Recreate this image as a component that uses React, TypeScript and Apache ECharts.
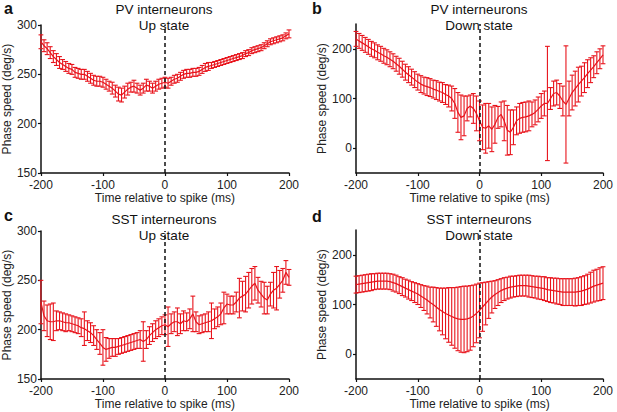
import React, { useEffect, useRef } from 'react';
import * as echarts from 'echarts';

const time = [
  -200, -195, -190, -185, -180, -175, -170, -165, -160, -155, -150, -145, -140, -135, -130, -125, -120, -115, -110, -105,
  -100, -95, -90, -85, -80, -75, -70, -65, -60, -55, -50, -45, -40, -35, -30, -25, -20, -15, -10, -5,
  0, 5, 10, 15, 20, 25, 30, 35, 40, 45, 50, 55, 60, 65, 70, 75, 80, 85, 90, 95,
  100, 105, 110, 115, 120, 125, 130, 135, 140, 145, 150, 155, 160, 165, 170, 175, 180, 185, 190, 195, 200,
];

const xTicks = [-200, -100, 0, 100, 200];

// a: PV interneurons, Up state
const pvUpMean = [
  283, 279, 276, 272, 268, 265, 262, 260, 258, 256, 255, 252, 251, 250, 250, 248, 246, 244, 243, 243,
  242, 240, 238, 236, 233, 230, 229, 232, 235, 237, 238, 236, 234, 236, 239, 238, 236, 238, 240, 241,
  242, 241, 243, 245, 246, 248, 250, 251, 251, 252, 252, 253, 255, 257, 258, 259, 260, 261, 262, 263,
  264, 265, 266, 267, 268, 269, 271, 272, 274, 275, 276, 277, 279, 281, 283, 284, 285, 286, 287, 289, 291,
];
const pvUpErr = [
  7, 6, 6, 6, 6, 6, 6, 5, 5, 5, 5, 5, 5, 5, 5, 5, 5, 5, 5, 5,
  5, 5, 5, 6, 6, 7, 7, 6, 6, 5, 6, 5, 5, 5, 6, 5, 5, 5, 5, 5,
  5, 5, 4, 4, 4, 4, 4, 4, 4, 4, 4, 4, 4, 4, 4, 3, 3, 3, 3, 3,
  3, 3, 3, 3, 3, 3, 3, 3, 3, 3, 3, 3, 3, 3, 3, 3, 3, 3, 3, 3, 4,
];

// b: PV interneurons, Down state
const pvDownMean = [
  220, 216, 212, 208, 204, 200, 197, 193, 190, 186, 183, 179, 175, 170, 165, 159, 153, 148, 143, 138,
  133, 129, 126, 124, 122, 119, 117, 114, 112, 108, 105, 100, 90, 72, 62, 65, 80, 85, 80, 70,
  55, 42, 40, 45, 38, 48, 62, 68, 55, 36, 32, 42, 55, 60, 62, 63, 65, 68, 72, 78,
  85, 90, 90, 100, 110, 112, 105, 95, 88, 100, 112, 120, 128, 135, 142, 150, 157, 164, 172, 180, 188,
];
const pvDownErr = [
  15, 15, 15, 15, 15, 15, 15, 15, 15, 15, 15, 15, 15, 15, 16, 16, 16, 16, 16, 16,
  16, 17, 17, 18, 18, 18, 19, 19, 20, 20, 22, 25, 30, 40, 45, 40, 25, 22, 30, 35,
  40, 45, 50, 45, 45, 38, 22, 25, 40, 50, 45, 35, 28, 30, 30, 30, 30, 25, 25, 25,
  25, 25, 115, 22, 25, 25, 25, 30, 118, 35, 35, 35, 35, 30, 30, 28, 25, 22, 22, 20, 18,
];

// c: SST interneurons, Up state
const sstUpMean = [
  228, 214, 209, 208, 208, 209, 209, 208, 207, 207, 206, 205, 204, 202, 201, 199, 197, 194, 190, 186,
  182, 180, 181, 182, 182, 183, 184, 185, 186, 187, 188, 189, 190, 188, 190, 194, 197, 200, 202, 204,
  205, 203, 206, 208, 208, 206, 209, 208, 211, 216, 208, 205, 206, 207, 208, 209, 211, 213, 216, 222,
  226, 225, 225, 228, 232, 234, 236, 240, 244, 247, 240, 236, 232, 230, 236, 240, 242, 246, 250, 258, 253,
];
const sstUpErr = [
  22, 15, 16, 18, 19, 10, 9, 9, 9, 8, 8, 8, 8, 9, 17, 10, 10, 10, 10, 11,
  18, 12, 10, 9, 9, 8, 8, 8, 8, 8, 8, 8, 9, 20, 9, 9, 9, 9, 9, 9,
  10, 20, 10, 10, 14, 10, 10, 9, 10, 18, 10, 9, 9, 9, 10, 18, 10, 10, 11, 16,
  10, 9, 9, 10, 20, 15, 18, 18, 18, 17, 13, 13, 16, 14, 12, 18, 22, 14, 12, 12, 8,
];

// d: SST interneurons, Down state
const sstDownMean = [
  140, 141, 142, 143, 144, 145, 146, 147, 147, 147, 147, 146, 144, 142, 139, 136, 133, 130, 127, 124,
  121, 117, 113, 109, 104, 100, 95, 90, 86, 82, 79, 76, 73, 71, 70, 70, 71, 73, 77, 82,
  88, 95, 102, 109, 115, 120, 124, 128, 131, 133, 135, 136, 137, 138, 138, 138, 137, 136, 135, 134,
  133, 132, 130, 129, 128, 127, 126, 125, 125, 125, 125, 125, 126, 127, 129, 131, 134, 137, 139, 141, 143,
];
const sstDownErr = [
  17, 17, 17, 17, 17, 17, 16, 16, 16, 16, 16, 16, 17, 17, 17, 18, 18, 19, 19, 20,
  21, 23, 25, 28, 31, 35, 39, 43, 47, 51, 55, 58, 61, 64, 66, 67, 66, 65, 62, 59,
  55, 49, 43, 37, 32, 28, 26, 24, 23, 22, 22, 21, 21, 21, 21, 21, 22, 22, 22, 23,
  23, 24, 24, 25, 25, 26, 26, 27, 27, 27, 27, 28, 28, 29, 29, 30, 31, 32, 32, 33, 33,
];

const titles = [
  'PV interneurons\nUp state',
  'PV interneurons\nDown state',
  'SST interneurons\nUp state',
  'SST interneurons\nDown state',
];
const letters = ['a', 'b', 'c', 'd'];
const yTicksUp = [150, 200, 250, 300];
const yTicksDown = [0, 100, 200];

const RED = '#e8141c';
const FONT = 'Liberation Sans, Arial, sans-serif';

export default function App() {
  const ref = useRef<HTMLDivElement>(null);

  useEffect(() => {
    if (!ref.current) return;
    const chart = echarts.init(ref.current, null, { renderer: 'svg' });

    const panels = [
      { mean: pvUpMean, err: pvUpErr, grid: { left: 40, top: 25, width: 249, height: 148 }, yMin: 150, yMax: 300, ticks: yTicksUp, tx: 164, ty: 1, lx: 4, ly: 0 },
      { mean: pvDownMean, err: pvDownErr, grid: { left: 356, top: 24, width: 247, height: 149 }, yMin: -50, yMax: 250, ticks: yTicksDown, tx: 479, ty: 1, lx: 312, ly: 0 },
      { mean: sstUpMean, err: sstUpErr, grid: { left: 40, top: 231, width: 249, height: 148 }, yMin: 150, yMax: 300, ticks: yTicksUp, tx: 164, ty: 211, lx: 4, ly: 207 },
      { mean: sstDownMean, err: sstDownErr, grid: { left: 356, top: 230, width: 247, height: 149 }, yMin: -50, yMax: 250, ticks: yTicksDown, tx: 479, ty: 211, lx: 312, ly: 208 },
    ];

    const axisLineStyle = { color: '#111', width: 1.5 };
    const axisTick = { show: true, length: 3, lineStyle: { color: '#111', width: 1.2 } };
    const axisLabelStyle = { fontSize: 12, color: '#222', fontFamily: FONT };

    const grids: any[] = [];
    const xAxes: any[] = [];
    const yAxes: any[] = [];
    const series: any[] = [];
    const graphics: any[] = [];

    panels.forEach((p, i) => {
      grids.push({ ...p.grid, containLabel: false });
      xAxes.push({
        type: 'value',
        gridIndex: i,
        min: -200,
        max: 200,
        interval: 100,
        axisLine: { show: true, onZero: false, lineStyle: axisLineStyle },
        axisTick: { ...axisTick, customValues: xTicks },
        axisLabel: { ...axisLabelStyle, margin: 6, customValues: xTicks },
        splitLine: { show: false },
        name: 'Time relative to spike (ms)',
        nameLocation: 'middle',
        nameGap: 19,
        nameTextStyle: { fontSize: 12, color: '#222', fontFamily: FONT },
      });
      yAxes.push({
        type: 'value',
        gridIndex: i,
        min: p.yMin,
        max: p.yMax,
        interval: 50,
        axisLine: { show: true, onZero: false, lineStyle: axisLineStyle },
        axisTick: { ...axisTick, customValues: p.ticks },
        axisLabel: { ...axisLabelStyle, margin: 4, customValues: p.ticks },
        splitLine: { show: false },
        name: 'Phase speed (deg/s)',
        nameLocation: 'middle',
        nameGap: 27,
        nameTextStyle: { fontSize: 12, color: '#222', fontFamily: FONT },
      });
      const errData = time.map((t, k) => [t, p.mean[k] - p.err[k], p.mean[k] + p.err[k]]);
      series.push({
        type: 'custom',
        xAxisIndex: i,
        yAxisIndex: i,
        encode: { x: 0, y: [1, 2] },
        data: errData,
        clip: false,
        renderItem: (params: any, api: any) => {
          const x = api.value(0);
          const lo = api.coord([x, api.value(1)]);
          const hi = api.coord([x, api.value(2)]);
          const w = 2.4;
          const style = { stroke: RED, lineWidth: 1.1, fill: null };
          return {
            type: 'group',
            children: [
              { type: 'line', shape: { x1: lo[0], y1: lo[1], x2: hi[0], y2: hi[1] }, style },
              { type: 'line', shape: { x1: lo[0] - w, y1: lo[1], x2: lo[0] + w, y2: lo[1] }, style },
              { type: 'line', shape: { x1: hi[0] - w, y1: hi[1], x2: hi[0] + w, y2: hi[1] }, style },
            ],
          };
        },
      });
      series.push({
        type: 'line',
        xAxisIndex: i,
        yAxisIndex: i,
        data: time.map((t, k) => [t, p.mean[k]]),
        showSymbol: false,
        symbol: 'none',
        lineStyle: { color: RED, width: 1.2 },
        z: 3,
        markLine: {
          silent: true,
          symbol: 'none',
          label: { show: false },
          lineStyle: { color: '#111', type: [4, 3], width: 1.5 },
          data: [{ xAxis: 0 }],
          z: 5,
        },
      });
      graphics.push({
        type: 'text',
        x: p.tx,
        y: p.ty,
        style: {
          text: titles[i],
          textAlign: 'center',
          fontSize: 13.5,
          fontWeight: 'normal',
          lineHeight: 16,
          fontFamily: FONT,
          fill: '#111',
        },
      });
      graphics.push({
        type: 'text',
        x: p.lx,
        y: p.ly,
        style: {
          text: letters[i],
          fontSize: 16,
          fontWeight: 'bold',
          fontFamily: FONT,
          fill: '#111',
        },
      });
    });

    chart.setOption({
      animation: false,
      backgroundColor: '#fff',
      grid: grids,
      xAxis: xAxes,
      yAxis: yAxes,
      series,
      graphic: graphics,
    });

    return () => chart.dispose();
  }, []);

  return <div ref={ref} style={{ position: 'absolute', left: 0, top: 0, width: 617, height: 412 }} />;
}
